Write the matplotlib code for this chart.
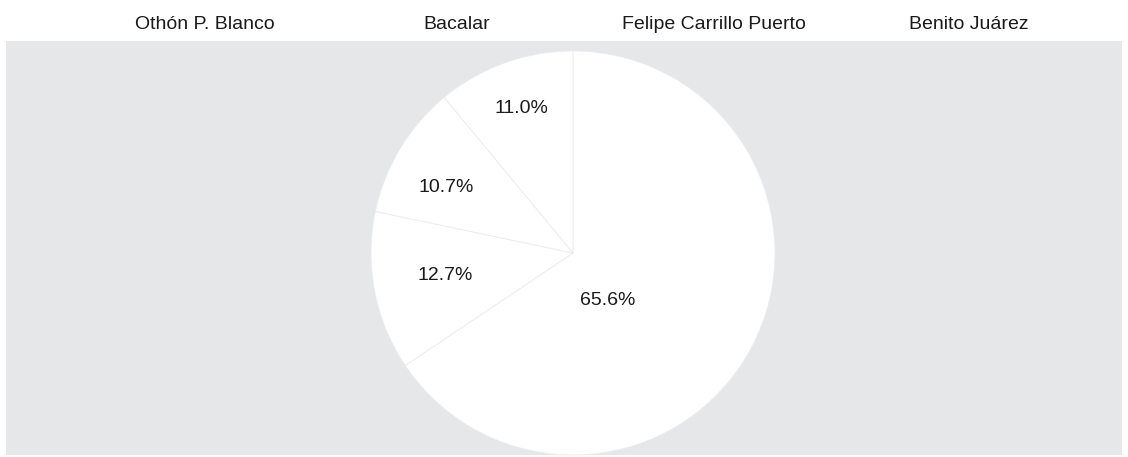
import matplotlib
matplotlib.use("Agg")
import matplotlib.pyplot as plt

# Data
municipios = ["Othón P. Blanco", "Bacalar", "Felipe Carrillo Puerto", "Benito Juárez"]
porcentajes = [65.6, 12.7, 10.7, 11.0]

plt.rcParams['font.family'] = ['Liberation Sans', 'DejaVu Sans']

W, H = 1128, 457
fig = plt.figure(figsize=(W / 100, H / 100), dpi=100)
fig.patch.set_facecolor('white')

# gray plot background
bg = fig.add_axes([6 / W, 2 / H, 1116 / W, 414 / H])
bg.set_facecolor('#e6e7e9')
bg.set_xticks([]); bg.set_yticks([])
for s in bg.spines.values():
    s.set_visible(False)

# pie axes
cx, cy, r = 573, 253, 202
ax = fig.add_axes([(cx - r) / W, (H - cy - r) / H, 2 * r / W, 2 * r / H])
ax.set_facecolor('none')
wedges, texts, autotexts = ax.pie(
    porcentajes, startangle=90, counterclock=False,
    colors=['white'] * len(porcentajes),
    wedgeprops=dict(edgecolor='#ececec', linewidth=0.6),
    autopct='%.1f%%', pctdistance=0.71,
    textprops=dict(fontsize=14, color='#1a1a1a'))
ax.set_xlim(-1, 1); ax.set_ylim(-1, 1)
ax.set_aspect('equal')
ax.axis('off')
# label placement (inside-fit, like the original)
label_pos = [(0.173, -0.233), (-0.634, -0.109), (-0.629, 0.322), (-0.257, 0.713)]
for t, p in zip(autotexts, label_pos):
    t.set_position(p)
    t.set_ha('center'); t.set_va('center')

# legend-like header
leg_x = [135, 423, 622, 909]
for name, x in zip(municipios, leg_x):
    fig.text(x / W, (H - 29) / H, name, ha='left', va='baseline',
             fontsize=14, color='#1a1a1a')

fig.savefig('out.png', dpi=100, facecolor='white')
